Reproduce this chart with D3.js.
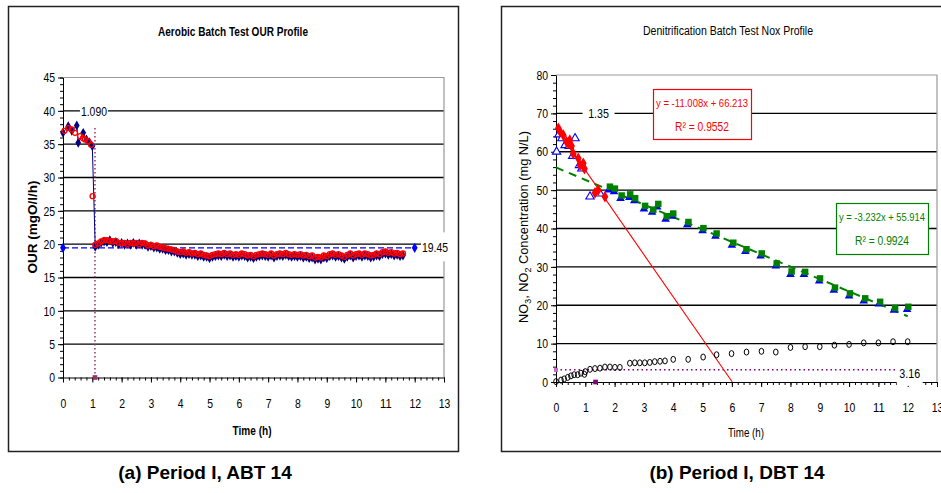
<!DOCTYPE html>
<html>
<head>
<meta charset="utf-8">
<script src="https://cdn.jsdelivr.net/npm/d3@7/dist/d3.min.js"></script>
<style>
body { margin: 0; background: #fff; }
svg text { font-family: "Liberation Sans Narrow", "Arial Narrow", "Liberation Sans", Arial, sans-serif; }
.cap { font-weight: bold; }
</style>
</head>
<body>
<svg id="chart" width="941" height="493"></svg>
<script>
// ---- (a) aerobic batch test, OUR profile ----
var ourTicksY = [0, 5, 10, 15, 20, 25, 30, 35, 40, 45];
var timeTicks = [0, 1, 2, 3, 4, 5, 6, 7, 8, 9, 10, 11, 12, 13];

// first hour, before the drop
var ourBlueEarly = [[0, 36.7], [0.18, 37.7], [0.3, 37.0], [0.47, 37.8], [0.52, 35.2], [0.69, 36.7], [0.8, 35.7], [0.9, 35.3], [1.0, 34.7]];
var ourRedEarly = [[0.05, 37.0], [0.18, 37.4], [0.3, 37.2], [0.41, 36.7], [0.58, 36.2], [0.68, 35.9], [0.75, 35.7], [0.86, 35.4], [0.96, 34.9], [1.01, 27.2]];

// after the drop, one reading every 0.1 h from 1.1 h
var ourTime = [1.1, 1.2, 1.3, 1.4, 1.5, 1.6, 1.7, 1.8, 1.9, 2.0,
    2.1, 2.2, 2.3, 2.4, 2.5, 2.6, 2.7, 2.8, 2.9, 3.0,
    3.1, 3.2, 3.3, 3.4, 3.5, 3.6, 3.7, 3.8, 3.9, 4.0,
    4.1, 4.2, 4.3, 4.4, 4.5, 4.6, 4.7, 4.8, 4.9, 5.0,
    5.1, 5.2, 5.3, 5.4, 5.5, 5.6, 5.7, 5.8, 5.9, 6.0,
    6.1, 6.2, 6.3, 6.4, 6.5, 6.6, 6.7, 6.8, 6.9, 7.0,
    7.1, 7.2, 7.3, 7.4, 7.5, 7.6, 7.7, 7.8, 7.9, 8.0,
    8.1, 8.2, 8.3, 8.4, 8.5, 8.6, 8.7, 8.8, 8.9, 9.0,
    9.1, 9.2, 9.3, 9.4, 9.5, 9.6, 9.7, 9.8, 9.9, 10.0,
    10.1, 10.2, 10.3, 10.4, 10.5, 10.6, 10.7, 10.8, 10.9, 11.0,
    11.1, 11.2, 11.3, 11.4, 11.5, 11.6];
var ourRed = [19.9, 20.1, 20.4, 20.6, 20.6, 20.5, 20.4, 20.5, 20.2, 20.1,
    20.2, 20.0, 20.2, 20.1, 20.2, 20.0, 20.2, 20.1, 19.8, 19.9,
    19.7, 19.8, 19.6, 19.5, 19.4, 19.3, 19.2, 19.1, 18.9, 18.8,
    18.9, 18.7, 18.8, 18.6, 18.7, 18.5, 18.6, 18.4, 18.3, 18.2,
    18.4, 18.5, 18.6, 18.5, 18.7, 18.5, 18.6, 18.4, 18.5, 18.4,
    18.6, 18.5, 18.3, 18.4, 18.2, 18.4, 18.5, 18.6, 18.5, 18.4,
    18.6, 18.3, 18.5, 18.6, 18.5, 18.7, 18.5, 18.4, 18.5, 18.4,
    18.5, 18.3, 18.4, 18.2, 18.3, 18.0, 18.1, 18.0, 18.3, 18.2,
    18.5, 18.6, 18.4, 18.5, 18.3, 18.1, 18.4, 18.6, 18.3, 18.5,
    18.6, 18.4, 18.6, 18.5, 18.3, 18.4, 18.6, 18.5, 18.8, 18.9,
    18.7, 18.8, 18.6, 18.7, 18.5, 18.6];
var ourBlue = [19.6, 19.9, 20.2, 20.4, 20.3, 20.6, 20.2, 20.3, 20.0, 20.2,
    19.9, 20.1, 19.9, 20.2, 19.9, 20.1, 19.9, 19.9, 19.6, 19.7,
    19.5, 19.5, 19.3, 19.3, 19.1, 19.1, 18.9, 18.9, 18.7, 18.5,
    18.6, 18.4, 18.5, 18.4, 18.4, 18.2, 18.3, 18.1, 18.1, 17.9,
    18.1, 18.2, 18.3, 18.2, 18.4, 18.2, 18.3, 18.1, 18.2, 18.1,
    18.3, 18.2, 18.0, 18.1, 17.9, 18.1, 18.2, 18.3, 18.2, 18.1,
    18.3, 18.0, 18.2, 18.3, 18.2, 18.4, 18.2, 18.1, 18.2, 18.1,
    18.2, 18.0, 18.1, 17.9, 18.0, 17.7, 17.8, 17.7, 18.0, 17.9,
    18.2, 18.3, 18.1, 18.2, 18.0, 17.8, 18.1, 18.3, 18.0, 18.2,
    18.3, 18.1, 18.3, 18.2, 18.0, 18.1, 18.3, 18.2, 18.5, 18.6,
    18.4, 18.5, 18.3, 18.4, 18.2, 18.3];

var ourMean = 19.45;          // dashed line, 0 to 12 h
var ourMeanSpan = [0, 12];
var ourBreak = 1.09;          // dotted vertical line
var ourBreakTop = 37.5;

// ---- (b) denitrification batch test, NOx profile ----
var noxTicksY = [0, 10, 20, 30, 40, 50, 60, 70, 80];

var noxRed = [[0.08, 66.1], [0.14, 65.2], [0.25, 64.3], [0.36, 62.6], [0.42, 62.2], [0.47, 63.0], [0.53, 61.5], [0.59, 59.5],
    [0.76, 58.3], [0.82, 56.5], [0.93, 57.0], [0.97, 55.6], [1.33, 49.3], [1.44, 50.0], [1.67, 48.3]];
var noxBlueEarly = [[0.02, 60.0], [0.1, 64.5], [0.2, 63.5], [0.31, 61.7], [0.45, 61.5], [0.57, 58.9], [0.65, 63.5],
    [0.8, 56.5], [0.88, 55.6], [1.16, 48.3], [1.5, 49.1]];
var noxGreen = [[1.84, 50.9], [2.01, 50.4], [2.24, 48.6], [2.53, 48.9], [2.7, 47.9], [3.04, 45.9], [3.32, 44.9], [3.49, 46.4],
    [3.78, 43.2], [4.0, 43.9], [4.52, 41.7], [5.03, 40.1], [5.48, 38.7], [6.05, 36.3], [6.5, 34.6], [7.02, 33.5],
    [7.53, 30.9], [8.04, 28.8], [8.5, 28.7], [9.01, 27.0], [9.52, 24.6], [10.03, 23.1], [10.55, 21.8], [11.06, 20.9],
    [11.57, 19.3], [12.02, 19.6]];
var noxBlueLate = [[1.8, 50.0], [1.98, 49.6], [2.2, 47.8], [2.5, 48.1], [2.67, 47.2], [3.0, 45.1], [3.28, 44.2], [3.45, 45.6],
    [3.74, 42.4], [3.96, 43.2], [4.48, 41.0], [5.0, 39.4], [5.44, 38.0], [6.0, 35.6], [6.46, 34.0], [6.98, 32.8],
    [7.5, 30.2], [8.0, 28.0], [8.46, 28.0], [8.98, 26.3], [9.48, 23.9], [10.0, 22.4], [10.5, 21.1], [11.02, 20.3],
    [11.53, 18.7], [11.98, 18.9]];
var no2Circles = [[0, 0.1], [0.17, 0.5], [0.28, 0.8], [0.4, 1.2], [0.51, 1.6], [0.62, 1.9], [0.74, 1.9], [0.85, 2.3], [0.97, 2.0], [1.0, 2.7],
    [1.16, 3.3], [1.33, 3.5], [1.5, 3.6], [1.67, 3.9], [1.84, 3.9], [2.01, 3.8], [2.18, 3.8],
    [2.52, 4.9], [2.69, 5.0], [2.86, 5.0], [3.03, 5.0], [3.2, 5.1], [3.37, 5.3], [3.55, 5.4], [3.72, 5.5],
    [4.0, 5.9], [4.51, 5.9], [5.02, 6.5], [5.48, 7.1], [5.99, 7.4], [6.5, 7.8], [7.01, 8.0], [7.5, 7.8],
    [8.0, 9.0], [8.5, 9.2], [9.0, 9.2], [9.5, 9.6], [10.0, 9.8], [10.5, 10.2], [11.0, 10.2], [11.5, 10.5], [12.0, 10.5]];

// trend lines from the chart's own equations
var fitRed = { slope: -11.008, intercept: 66.213, r2: "0.9552" };
var fitGreen = { slope: -3.232, intercept: 55.914, r2: "0.9924" };
var noxLevel = 3.16;          // dotted horizontal line
var noxLevelSpan = [0, 12];
var noxMark = 1.35;

var svg = d3.select("#chart");

function minorTicks(step, max) {
    return d3.range(0, max + step / 2, step);
}

// squeeze text to a narrow face
function narrow(sel, perChar) {
    sel.each(function() {
        var s = this.textContent;
        d3.select(this).attr("textLength", s.length * perChar).attr("lengthAdjust", "spacingAndGlyphs");
    });
}

function frame(g, x, y, yTicks, yMinor, xMinor) {
    var w = x.range()[1], h = y.range()[0];

    // gridlines
    g.append("g").selectAll("line")
        .data(yTicks.slice(1, -1))
      .enter().append("line")
        .attr("x1", 0).attr("x2", w)
        .attr("y1", function(d) { return y(d); })
        .attr("y2", function(d) { return y(d); })
        .attr("stroke", "#000").attr("stroke-width", 1.3);

    // grey plot border on top and right
    g.append("path")
        .attr("d", "M0," + y.range()[1] + "H" + w + "V" + h)
        .attr("fill", "none").attr("stroke", "#999").attr("stroke-width", 1.2);

    var yMinorAx = d3.axisLeft(y).tickValues(yMinor).tickSize(3).tickFormat("");
    g.append("g").call(yMinorAx).select(".domain").remove();
    var yAx = d3.axisLeft(y).tickValues(yTicks).tickSize(5).tickPadding(3).tickSizeOuter(0);
    var ya = g.append("g").call(yAx);
    ya.selectAll("text").style("font-size", "13px").call(narrow, 5.8);

    var xMinorAx = d3.axisBottom(x).tickValues(xMinor).tickSize(3).tickFormat("");
    g.append("g").attr("transform", "translate(0," + h + ")").call(xMinorAx).select(".domain").remove();
    var xAx = d3.axisBottom(x).tickValues(timeTicks).tickSize(5).tickPadding(16).tickSizeOuter(0);
    var xa = g.append("g").attr("transform", "translate(0," + h + ")").call(xAx);
    xa.selectAll("text").style("font-size", "13px").call(narrow, 5.8);
}

function labelBox(g, cx, cy, w, h, txt) {
    g.append("rect").attr("x", cx - w / 2).attr("y", cy - h / 2)
        .attr("width", w).attr("height", h).attr("fill", "#fff");
    g.append("text").attr("x", cx).attr("y", cy + 5)
        .attr("text-anchor", "middle").style("font-size", "13px").text(txt)
        .call(narrow, 5.2);
}

// ================= panel (a) =================
svg.append("rect").attr("x", 8.5).attr("y", 6.5).attr("width", 450).attr("height", 445)
    .attr("fill", "#fff").attr("stroke", "#222").attr("stroke-width", 1.5);

var ga = svg.append("g").attr("transform", "translate(63,0)");
var xa = d3.scaleLinear().domain([0, 13]).range([0, 381]);
var ya = d3.scaleLinear().domain([0, 45]).range([377.5, 77.5]);

frame(ga, xa, ya, ourTicksY, minorTicks(1, 45), minorTicks(0.2, 13));

svg.append("text").attr("x", 233).attr("y", 36).attr("text-anchor", "middle")
    .attr("textLength", 150).attr("lengthAdjust", "spacingAndGlyphs")
    .style("font-size", "12px").style("font-weight", "bold")
    .text("Aerobic Batch Test OUR Profile");
svg.append("text").attr("transform", "translate(37,227) rotate(-90)").attr("text-anchor", "middle")
    .attr("textLength", 93).attr("lengthAdjust", "spacingAndGlyphs")
    .style("font-size", "13px").style("font-weight", "bold")
    .text("OUR (mgO/l/h)");
svg.append("text").attr("x", 252).attr("y", 435).attr("text-anchor", "middle")
    .attr("textLength", 39).attr("lengthAdjust", "spacingAndGlyphs")
    .style("font-size", "13px").style("font-weight", "bold")
    .text("Time (h)");

// vertical dotted break line and its label
ga.append("line")
    .attr("x1", xa(ourBreak)).attr("x2", xa(ourBreak))
    .attr("y1", ya(0)).attr("y2", ya(ourBreakTop))
    .attr("stroke", "#993366").attr("stroke-width", 1.5).attr("stroke-dasharray", "1.5,2.5");
ga.append("path").attr("d", d3.symbol(d3.symbolSquare, 22)())
    .attr("transform", "translate(" + xa(ourBreak) + "," + ya(0) + ")").attr("fill", "#993366");
labelBox(ga, xa(ourBreak) - 1, ya(40), 28, 14, "1.090");

// mean line
ga.append("line")
    .attr("x1", xa(ourMeanSpan[0])).attr("x2", xa(ourMeanSpan[1]))
    .attr("y1", ya(ourMean)).attr("y2", ya(ourMean))
    .attr("stroke", "#0000ff").attr("stroke-width", 1.4).attr("stroke-dasharray", "6,3");
ga.selectAll(".meanpt").data(ourMeanSpan).enter().append("path")
    .attr("d", d3.symbol(d3.symbolDiamond, 30)())
    .attr("transform", function(d) { return "translate(" + xa(d) + "," + ya(ourMean) + ")"; })
    .attr("fill", "#0000ff");
labelBox(ga, 372, ya(ourMean) - 1, 28, 29, "19.45");

var blueAll = ourBlueEarly.concat(ourTime.map(function(t, i) { return [t, ourBlue[i]]; }));
var redAll = ourRedEarly.concat(ourTime.map(function(t, i) { return [t, ourRed[i]]; }));

ga.append("path").datum(blueAll)
    .attr("d", d3.line().x(function(d) { return xa(d[0]); }).y(function(d) { return ya(d[1]); }))
    .attr("fill", "none").attr("stroke", "#000080").attr("stroke-width", 1);
ga.selectAll(".bd").data(blueAll).enter().append("path")
    .attr("d", d3.symbol(d3.symbolDiamond, 28)())
    .attr("transform", function(d) { return "translate(" + xa(d[0]) + "," + ya(d[1]) + ")"; })
    .attr("fill", "#000080");
ga.selectAll(".rc").data(redAll).enter().append("circle")
    .attr("cx", function(d) { return xa(d[0]); })
    .attr("cy", function(d) { return ya(d[1]); })
    .attr("r", 2.5).attr("fill", "none").attr("stroke", "#ff0000").attr("stroke-width", 1.3);

// ================= panel (b) =================
svg.append("rect").attr("x", 501.5).attr("y", 6.5).attr("width", 460).attr("height", 445)
    .attr("fill", "#fff").attr("stroke", "#222").attr("stroke-width", 1.5);

var gb = svg.append("g").attr("transform", "translate(556,0)");
var xb = d3.scaleLinear().domain([0, 13]).range([0, 381]);
var yb = d3.scaleLinear().domain([0, 80]).range([382, 75]);

frame(gb, xb, yb, noxTicksY, minorTicks(2, 80), minorTicks(0.2, 13));

svg.append("text").attr("x", 728).attr("y", 35).attr("text-anchor", "middle")
    .attr("textLength", 170).attr("lengthAdjust", "spacingAndGlyphs")
    .style("font-size", "12px")
    .text("Denitrification Batch Test Nox Profile");
var yl = svg.append("text").attr("transform", "translate(528,227) rotate(-90)").attr("text-anchor", "middle")
    .attr("textLength", 192).attr("lengthAdjust", "spacingAndGlyphs")
    .style("font-size", "13px");
yl.append("tspan").text("NO");
yl.append("tspan").attr("dy", 3).style("font-size", "9px").text("3");
yl.append("tspan").attr("dy", -3).text(", NO");
yl.append("tspan").attr("dy", 3).style("font-size", "9px").text("2");
yl.append("tspan").attr("dy", -3).text(" Concentration (mg N/L)");
svg.append("text").attr("x", 746).attr("y", 437).attr("text-anchor", "middle")
    .attr("textLength", 36).attr("lengthAdjust", "spacingAndGlyphs")
    .style("font-size", "13px")
    .text("Time (h)");

// label at 1.35 h
gb.append("path").attr("d", d3.symbol(d3.symbolSquare, 22)())
    .attr("transform", "translate(" + xb(noxMark) + "," + yb(0) + ")").attr("fill", "#800080");
labelBox(gb, xb(noxMark) + 3, yb(70), 32, 14, "1.35");

// NO2 level line
gb.append("line")
    .attr("x1", xb(noxLevelSpan[0])).attr("x2", xb(noxLevelSpan[1]))
    .attr("y1", yb(noxLevel)).attr("y2", yb(noxLevel))
    .attr("stroke", "#800080").attr("stroke-width", 1.5).attr("stroke-dasharray", "1.5,3");
gb.append("path").attr("d", d3.symbol(d3.symbolSquare, 16)())
    .attr("transform", "translate(" + xb(0) + "," + yb(noxLevel) + ")").attr("fill", "#cc66cc");
labelBox(gb, xb(12) + 2, yb(noxLevel) + 3, 26, 26, "3.16");

// trend lines
gb.append("line")
    .attr("x1", xb(0)).attr("y1", yb(fitRed.intercept))
    .attr("x2", xb(-fitRed.intercept / fitRed.slope)).attr("y2", yb(0))
    .attr("stroke", "#ff0000").attr("stroke-width", 1.1);
gb.append("line")
    .attr("x1", xb(0)).attr("y1", yb(fitGreen.intercept))
    .attr("x2", xb(12)).attr("y2", yb(fitGreen.intercept + fitGreen.slope * 12))
    .attr("stroke", "#008000").attr("stroke-width", 2).attr("stroke-dasharray", "8,6");

// NO2 circles
gb.selectAll(".oc").data(no2Circles).enter().append("ellipse")
    .attr("cx", function(d) { return xb(d[0]); })
    .attr("cy", function(d) { return yb(d[1]); })
    .attr("rx", 2.3).attr("ry", 3).attr("fill", "none").attr("stroke", "#000").attr("stroke-width", 1);

// NOx points
gb.selectAll(".bt").data(noxBlueEarly).enter().append("path")
    .attr("d", d3.symbol(d3.symbolTriangle, 30)())
    .attr("transform", function(d) { return "translate(" + xb(d[0]) + "," + yb(d[1]) + ")"; })
    .attr("fill", "#fff").attr("stroke", "#0000ff").attr("stroke-width", 1.1);
gb.selectAll(".btl").data(noxBlueLate).enter().append("path")
    .attr("d", d3.symbol(d3.symbolTriangle, 32)())
    .attr("transform", function(d) { return "translate(" + xb(d[0]) + "," + yb(d[1]) + ")"; })
    .attr("fill", "#0000ff");
gb.selectAll(".gs").data(noxGreen).enter().append("path")
    .attr("d", d3.symbol(d3.symbolSquare, 42)())
    .attr("transform", function(d) { return "translate(" + xb(d[0]) + "," + yb(d[1]) + ")"; })
    .attr("fill", "#008000");
gb.selectAll(".rd").data(noxRed).enter().append("path")
    .attr("d", d3.symbol(d3.symbolDiamond, 40)())
    .attr("transform", function(d) { return "translate(" + xb(d[0]) + "," + yb(d[1]) + ")"; })
    .attr("fill", "#ff0000");

// equation boxes
function eqBox(x0, y0, w, h, color, fit) {
    svg.append("rect").attr("x", x0 + 0.5).attr("y", y0 + 0.5).attr("width", w).attr("height", h)
        .attr("fill", "#fff").attr("stroke", color).attr("stroke-width", 1.2);
    var eq = "y = " + fit.slope.toFixed(3) + "x + " + fit.intercept.toFixed(3);
    svg.append("text").attr("x", x0 + w / 2).attr("y", y0 + 18).attr("text-anchor", "middle")
        .attr("textLength", w - 6).attr("lengthAdjust", "spacingAndGlyphs")
        .style("font-size", "11px").attr("fill", color)
        .text(eq);
    svg.append("text").attr("x", x0 + w / 2).attr("y", y0 + 42).attr("text-anchor", "middle")
        .attr("textLength", 54).attr("lengthAdjust", "spacingAndGlyphs")
        .style("font-size", "13px").attr("fill", color)
        .text("R\u00b2 = " + fit.r2);
}
eqBox(653, 89, 98, 50, "#ff0000", fitRed);
eqBox(836, 203, 92, 51, "#008000", fitGreen);

// captions
svg.append("text").attr("class", "cap").attr("x", 205).attr("y", 479).attr("text-anchor", "middle")
    .style("font-family", "'Liberation Sans', Arial, sans-serif")
    .style("font-size", "19px").text("(a)  Period I, ABT 14");
svg.append("text").attr("class", "cap").attr("x", 737).attr("y", 479).attr("text-anchor", "middle")
    .style("font-family", "'Liberation Sans', Arial, sans-serif")
    .style("font-size", "19px").text("(b)  Period I, DBT 14");
</script>
</body>
</html>
